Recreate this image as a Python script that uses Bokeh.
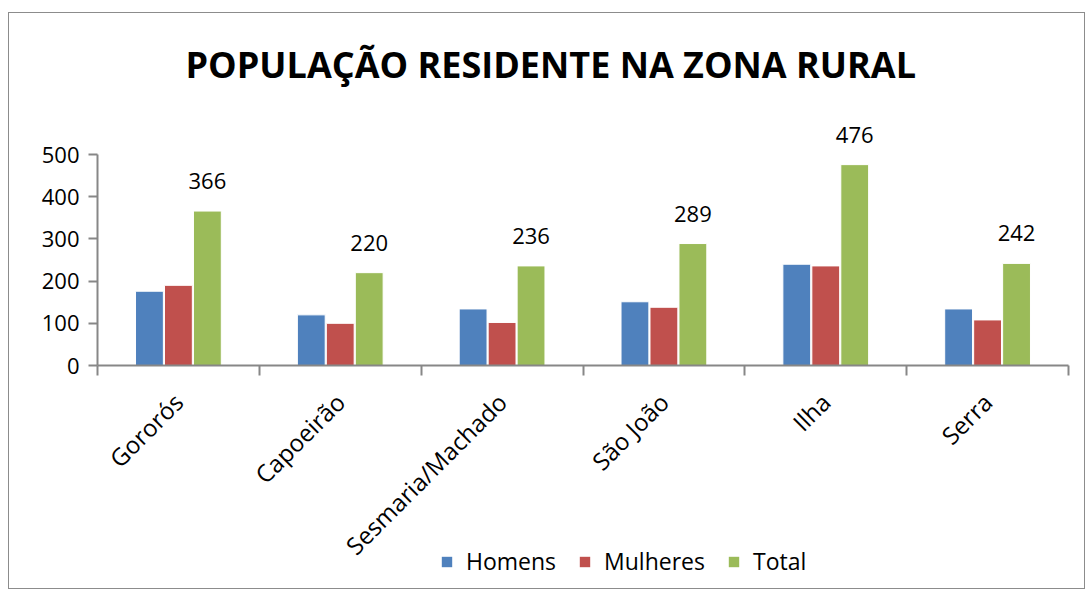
import numpy as np
from bokeh.plotting import figure
from bokeh.layouts import column
from bokeh.models import Range1d, FixedTicker, Legend, LegendItem, ColumnDataSource, LabelSet, Title
from bokeh.core.properties import value
from bokeh.transform import dodge
from bokeh.embed import file_html
from bokeh.resources import INLINE

categories = ["Gororós", "Capoeirão", "Sesmaria/Machado", "São João", "Ilha", "Serra"]
homens = [176, 120, 134, 151, 240, 134]
mulheres = [190, 100, 102, 138, 236, 108]
total = [366, 220, 236, 289, 476, 242]
y_ticks = [0, 100, 200, 300, 400, 500]
series_names = ["Homens", "Mulheres", "Total"]

FONT = "Open Sans"
BLUE, RED, GREEN = "#4F81BD", "#C0504D", "#9BBB59"
AXIS = "#878787"

W = 1075
TOP = 96            # frame top inside the figure
BOTTOM_Y = 352      # frame bottom (value 0) inside the figure
AX_TOP = 141        # value 500 inside the figure
BOTTOM_PANEL = 214
H1 = BOTTOM_Y + BOTTOM_PANEL
YMAX = 500 * (BOTTOM_Y - TOP) / (BOTTOM_Y - AX_TOP)

p = figure(width=W, height=H1, output_backend="svg", toolbar_location=None,
           x_range=Range1d(0, len(categories)), y_range=Range1d(0, YMAX),
           min_border_left=88, min_border_right=16, min_border_top=TOP,
           min_border_bottom=BOTTOM_PANEL)
p.outline_line_color = None
p.xgrid.visible = False
p.ygrid.visible = False
p.background_fill_color = "white"
p.border_fill_color = "white"

centers = np.arange(len(categories)) + 0.5
bw = 0.172
step = 0.179
src = ColumnDataSource(dict(c=centers, h=homens, m=mulheres, t=total,
                            tl=[str(v) for v in total]))
rh = p.vbar(x=dodge("c", -step), top="h", width=bw, source=src, fill_color=BLUE, line_color="white", line_width=1)
rm = p.vbar(x=dodge("c", 0), top="m", width=bw, source=src, fill_color=RED, line_color="white", line_width=1)
rt = p.vbar(x=dodge("c", step), top="t", width=bw, source=src, fill_color=GREEN, line_color="white", line_width=1)

labels = LabelSet(x=dodge("c", step), y="t", text="tl", source=src,
                  text_align="center", text_baseline="alphabetic", y_offset=22,
                  text_font=value(FONT), text_font_size="22px", text_color="black")
p.add_layout(labels)

# x axis
p.xaxis.ticker = FixedTicker(ticks=list(centers), minor_ticks=list(range(len(categories) + 1)))
p.xaxis.major_label_overrides = {float(c): n for c, n in zip(centers, categories)}
p.xaxis.major_label_orientation = np.pi / 4
p.xaxis.major_tick_line_color = None
p.xaxis.major_tick_in = 0
p.xaxis.major_tick_out = 0
p.xaxis.minor_tick_line_color = AXIS
p.xaxis.minor_tick_in = 0
p.xaxis.minor_tick_out = 10
p.xaxis.minor_tick_line_width = 2
p.xaxis.axis_line_color = AXIS
p.xaxis.axis_line_width = 2
p.xaxis.major_label_text_font = FONT
p.xaxis.major_label_text_font_size = "24px"
p.xaxis.major_label_text_color = "black"
p.xaxis.major_label_standoff = 22

# y axis
p.yaxis.ticker = FixedTicker(ticks=y_ticks, minor_ticks=[])
p.yaxis.bounds = (0, 500)
p.yaxis.major_tick_in = 0
p.yaxis.major_tick_out = 9
p.yaxis.major_tick_line_color = AXIS
p.yaxis.major_tick_line_width = 2
p.yaxis.axis_line_color = AXIS
p.yaxis.axis_line_width = 2
p.yaxis.major_label_text_font = FONT
p.yaxis.major_label_text_font_size = "22px"
p.yaxis.major_label_text_color = "black"
p.yaxis.major_label_standoff = 9

# title
p.title = Title(text="POPULAÇÃO RESIDENTE NA ZONA RURAL", align="left",
                text_font=FONT, text_font_size="36px", text_font_style="bold",
                text_color="black", standoff=42, offset=88)

# legend strip (overlaps the bottom of the chart, transparent)
LG_H = 59
lg = figure(width=W, height=LG_H, output_backend="svg", toolbar_location=None,
            x_axis_location=None, y_axis_location=None,
            x_range=Range1d(0, 1), y_range=Range1d(0, 1),
            min_border_left=0, min_border_right=0, min_border_top=0, min_border_bottom=0)
lg.outline_line_color = None
lg.xgrid.visible = False
lg.ygrid.visible = False
lg.background_fill_alpha = 0
lg.border_fill_alpha = 0
lg.styles = {"margin-top": f"-{13 + H1 + LG_H - 588}px"}
items = []
for name, col in zip(series_names, [BLUE, RED, GREEN]):
    r = lg.vbar(x=[5], top=[0], width=0.1, fill_color=col, line_color=None)
    items.append(LegendItem(label=name, renderers=[r]))
legend = Legend(items=items, orientation="horizontal", location=(343, 11),
                label_text_font=FONT, label_text_font_size="23px", label_text_color="black",
                glyph_width=13, glyph_height=13, label_standoff=13, spacing=22,
                border_line_color=None, background_fill_alpha=0, padding=0, margin=0)
lg.add_layout(legend)

layout = column(p, lg, spacing=0)
layout.styles = {"margin-left": "8px", "margin-top": "12px", "border": "1px solid #8c8c8c"}

open("out.html", "w").write(file_html(layout, INLINE))
